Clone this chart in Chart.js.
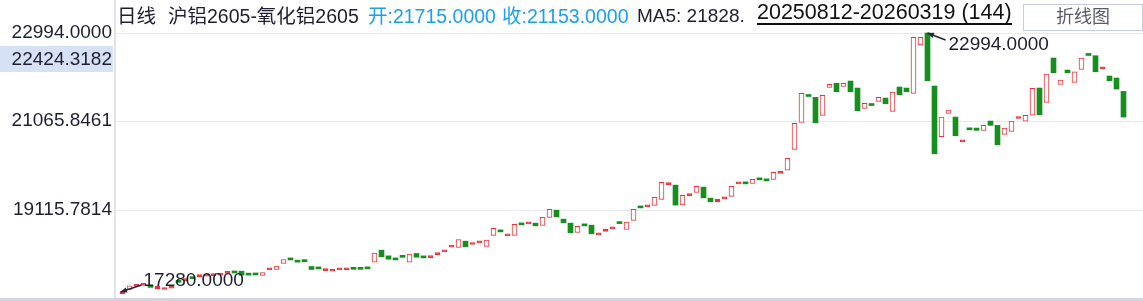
<!DOCTYPE html>
<html>
<head>
<meta charset="utf-8">
<script src="https://cdn.jsdelivr.net/npm/chart.js@4.4.1/dist/chart.umd.min.js"></script>
<style>
  body { margin: 0; background: #fff; }
  #wrap { position: relative; width: 1143px; height: 301px; overflow: hidden;
          font-family: "Liberation Sans", Arial, "Noto Sans CJK SC", sans-serif; }
  #myChart { position: absolute; left: 0; top: 0; }
  .hd { position: absolute; top: 6px; line-height: 20px; font-size: 19.5px; color: #1e1e30; white-space: nowrap; }
  .blue { color: #1aa0ee; }
  #ma { font-size: 19px; }
  #range { top: 1px; line-height: 22px; font-size: 21.5px; color: #111; border-bottom: 2px solid #111; }
  #btn { position: absolute; left: 1023px; top: 4px; width: 118px; height: 25px; border: 1px solid #c9cce0;
         text-align: center; line-height: 25px; font-size: 18px; color: #5a5a66; background: #fff; }
</style>
</head>
<body>
<div id="wrap">
  <canvas id="myChart" width="1143" height="301"></canvas>
  <span class="hd" style="left:117px">日线</span>
  <span class="hd" style="left:168px">沪铝2605-氧化铝2605</span>
  <span class="hd blue" style="left:368px">开:21715.0000</span>
  <span class="hd blue" style="left:502px">收:21153.0000</span>
  <span class="hd" id="ma" style="left:637px">MA5: 21828.</span>
  <span class="hd" id="range" style="left:757px">20250812-20260319 (144)</span>
  <div id="btn">折线图</div>
</div>
<script>
// daily candles (bodies only, no wicks)
const opens = [
  17280, 17380, 17450, 17470, 17445, 17392, 17378, 17405, 17555, 17572,
  17636, 17655, 17671, 17682, 17693, 17730, 17761, 17779, 17713, 17717,
  17685, 17807, 17817, 17948, 18046, 18020, 18008, 17882, 17849, 17791,
  17779, 17807, 17810, 17840, 17838, 17860, 17977, 18240, 18115, 18046,
  18103, 17977, 18167, 18101, 18076, 18142, 18202, 18306, 18299, 18437,
  18364, 18398, 18321, 18562, 18678, 18552, 18562, 18813, 18816, 18831,
  18781, 18956, 19116, 18919, 18831, 18627, 18809, 18787, 18574, 18649,
  18706, 18841, 18693, 18890, 19185, 19188, 19219, 19350, 19676, 19664,
  19232, 19435, 19504, 19620, 19379, 19298, 19362, 19416, 19691, 19711,
  19701, 19799, 19777, 19789, 19920, 19992, 20446, 21037, 21624, 21585,
  21191, 21804, 21892, 21826, 21942, 21789, 21344, 21426, 21497, 21570,
  21278, 21811, 21789, 21673, 22731, 22994, 21833, 20722, 21235, 21154,
  20611, 20894, 20913, 20862, 21066, 20972, 20775, 20840, 21122, 21066,
  21197, 21789, 21476, 22446, 21870, 22183, 21914, 22199, 22522, 22497,
  22211, 22052, 22008, 21715
];
const closes = [
  17330, 17457, 17468, 17490, 17425, 17451, 17396, 17423, 17535, 17592,
  17616, 17707, 17691, 17702, 17713, 17752, 17741, 17692, 17693, 17697,
  17751, 17827, 17889, 18036, 18026, 17977, 17988, 17817, 17829, 17811,
  17817, 17827, 17830, 17820, 17820, 17830, 18174, 18093, 18042, 18026,
  18083, 18152, 18086, 18071, 18096, 18162, 18240, 18326, 18474, 18312,
  18408, 18418, 18459, 18715, 18640, 18572, 18803, 18793, 18853, 18772,
  18956, 19131, 18969, 18838, 18619, 18759, 18772, 18597, 18594, 18700,
  18743, 18821, 18853, 19131, 19165, 19225, 19394, 19723, 19696, 19226,
  19438, 19455, 19635, 19385, 19298, 19350, 19382, 19635, 19711, 19691,
  19789, 19779, 19757, 19942, 19964, 20249, 21015, 21673, 21604, 21029,
  21629, 21870, 21708, 21892, 21708, 21292, 21454, 21406, 21585, 21445,
  21701, 21642, 21708, 22900, 22900, 21949, 20350, 21154, 21307, 20744,
  20631, 20874, 20862, 20972, 20972, 20547, 20913, 21066, 21142, 21191,
  21782, 21204, 22096, 22124, 21964, 22124, 22146, 22446, 22502, 22146,
  22231, 21949, 21767, 21153
];
const days = opens.map((_, i) => i);
const yTicks = [19115.7814, 21065.8461, 22994.0000];
const yMin = 17280, yMax = 22994;
const markValue = 22424.3182;

const RED = '#e8323c';
const GREEN = '#15901f';
const INK = '#1e1e30';
const FONT = '"Liberation Sans", Arial, sans-serif';

const isUp = i => closes[i] >= opens[i];

function arrow(ctx, x0, y0, x1, y1) {
  // line from (x1,y1) to the point (x0,y0) with a head at the point
  ctx.beginPath();
  ctx.moveTo(x1, y1);
  ctx.lineTo(x0, y0);
  ctx.stroke();
  const a = Math.atan2(y1 - y0, x1 - x0);
  ctx.beginPath();
  ctx.moveTo(x0, y0);
  ctx.lineTo(x0 + 7 * Math.cos(a - 0.4), y0 + 7 * Math.sin(a - 0.4));
  ctx.lineTo(x0 + 7 * Math.cos(a + 0.4), y0 + 7 * Math.sin(a + 0.4));
  ctx.closePath();
  ctx.fill();
}

const decor = {
  id: 'decor',
  afterDraw(chart) {
    const { ctx, chartArea, scales } = chart;
    const { x, y } = scales;
    ctx.save();
    // axis frame
    ctx.fillStyle = '#e2e2ee';
    ctx.fillRect(chartArea.left - 1, 0, 2, 298);
    ctx.fillStyle = '#d3d3e3';
    ctx.fillRect(0, 298, chart.width, 3);

    // highlighted value on the axis
    const ym = y.getPixelForValue(markValue);
    ctx.fillStyle = '#d7e1f6';
    ctx.fillRect(0, ym - 13, chartArea.left - 2, 26);
    ctx.fillStyle = INK;
    ctx.font = '19px ' + FONT;
    ctx.textAlign = 'right';
    ctx.textBaseline = 'middle';
    ctx.fillText(markValue.toFixed(4), chartArea.left - 3, ym + 1);

    // max / min markers
    const highs = days.map(i => Math.max(opens[i], closes[i]));
    const lows = days.map(i => Math.min(opens[i], closes[i]));
    const hi = Math.max(...highs), lo = Math.min(...lows);
    const hiIdx = highs.indexOf(hi), loIdx = lows.indexOf(lo);
    ctx.strokeStyle = '#262636';
    ctx.fillStyle = '#262636';
    ctx.lineWidth = 1.6;
    ctx.textAlign = 'left';

    let px = x.getPixelForValue(hiIdx), py = y.getPixelForValue(hi);
    arrow(ctx, px, py, px + 18, py + 7);
    ctx.fillStyle = INK;
    ctx.fillText(hi.toFixed(4), px + 21, py + 12);

    px = x.getPixelForValue(loIdx); py = y.getPixelForValue(lo);
    ctx.fillStyle = '#262636';
    arrow(ctx, px - 2, py - 2, px + 19, py - 9);
    ctx.fillStyle = INK;
    ctx.fillText(lo.toFixed(4), px + 21, py - 13);
    ctx.restore();
  }
};

new Chart(document.querySelector('#myChart'), {
  type: 'bar',
  data: {
    datasets: [{
      data: days.map(i => ({ x: i, y: [opens[i], closes[i]] })),
      backgroundColor: c => {
        const i = c.dataIndex;
        if (!isUp(i)) return GREEN;
        return Math.abs(closes[i] - opens[i]) < 60 ? RED : '#ffffff';
      },
      borderColor: c => isUp(c.dataIndex) ? RED : GREEN,
      borderWidth: c => isUp(c.dataIndex) ? 1 : 0,
      borderSkipped: false,
      barThickness: 5,
      minBarLength: 2,
      clip: false
    }]
  },
  options: {
    responsive: false,
    animation: false,
    devicePixelRatio: 1,
    layout: { padding: { top: 33, bottom: 7, left: 0, right: 0 } },
    plugins: { legend: { display: false }, tooltip: { enabled: false } },
    scales: {
      x: { type: 'linear', min: -1.0714, max: 145.786, offset: false, display: false,
           grid: { offset: false } },
      y: {
        min: yMin,
        max: yMax,
        afterFit: s => { s.width = 115; s.paddingTop = 0; s.paddingBottom = 0; },
        afterBuildTicks: s => { s.ticks = yTicks.map(v => ({ value: v })); },
        ticks: {
          callback: v => Number(v).toFixed(4),
          color: INK,
          padding: 3,
          font: { family: FONT, size: 19 }
        },
        grid: { color: '#e8e8f2', lineWidth: 1, drawTicks: false },
        border: { display: false }
      }
    }
  },
  plugins: [decor]
});
</script>
</body>
</html>
